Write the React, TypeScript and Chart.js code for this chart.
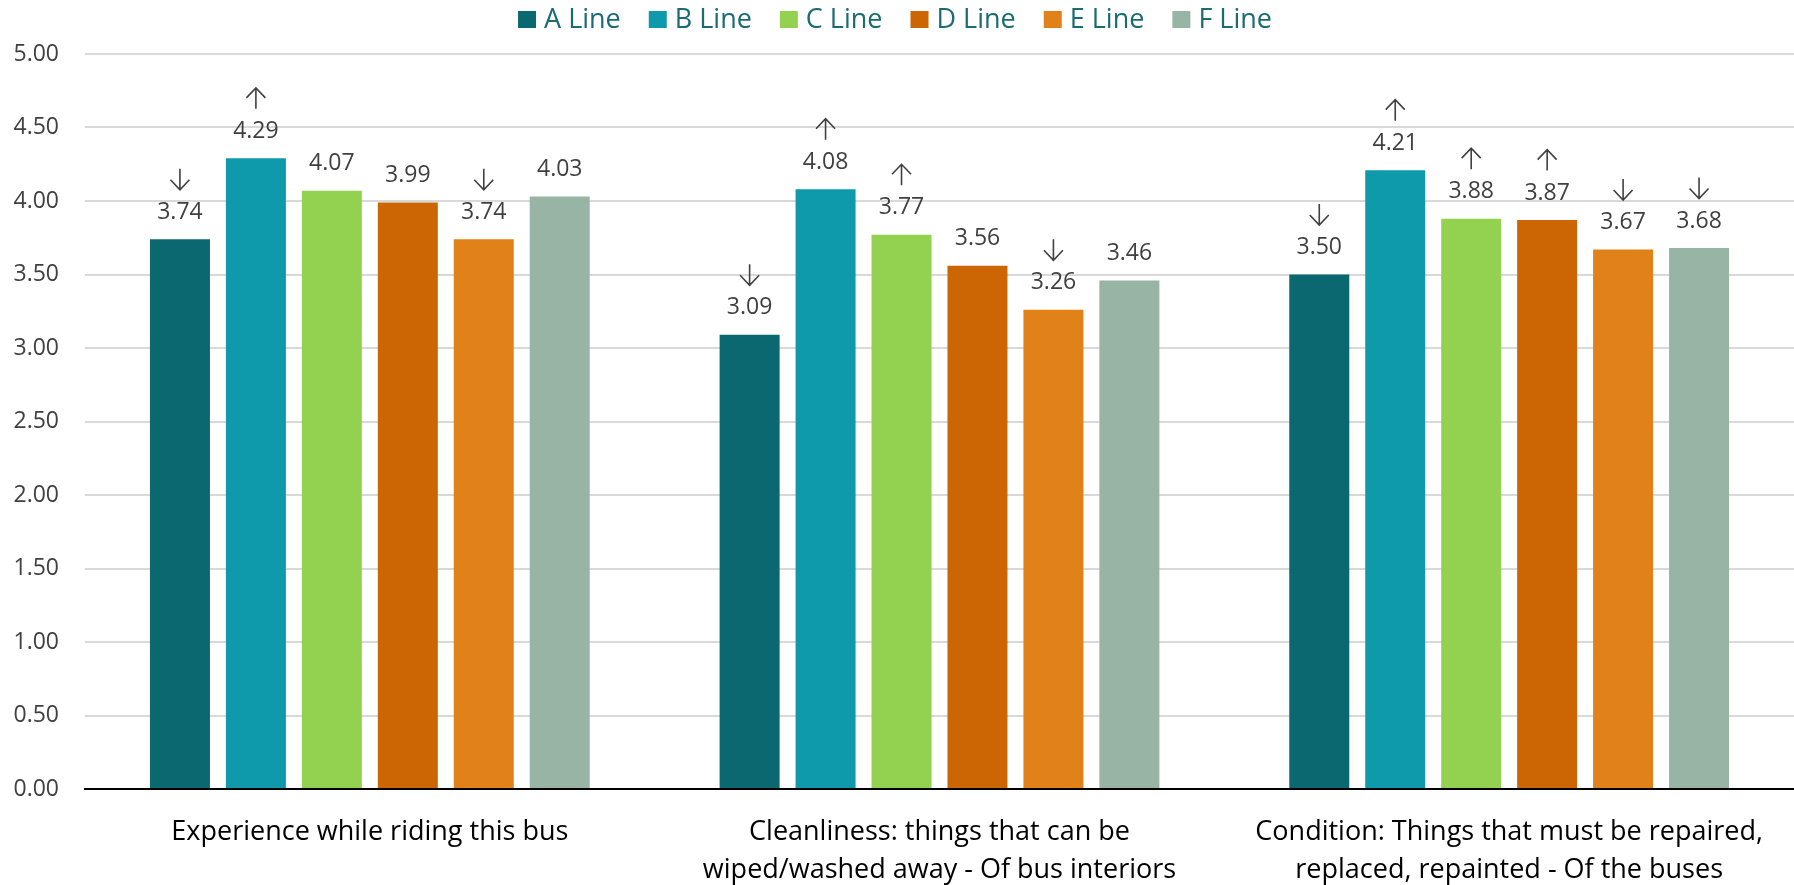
import React, { useEffect, useRef } from "react";
import { Chart, registerables } from "chart.js";

Chart.register(...registerables);

const FONT = "'Open Sans', 'Noto Sans', sans-serif";

const categories: (string | string[])[] = [
  "Experience while riding this bus",
  ["Cleanliness: things that can be", "wiped/washed away - Of bus interiors"],
  ["Condition: Things that must be repaired,", "replaced, repainted - Of the buses"],
];

const seriesNames = ["A Line", "B Line", "C Line", "D Line", "E Line", "F Line"];
const seriesColors = ["#0b6870", "#0e9aab", "#93d250", "#cc6504", "#e08119", "#98b4a4"];

const aLine = [3.74, 3.09, 3.5];
const bLine = [4.29, 4.08, 4.21];
const cLine = [4.07, 3.77, 3.88];
const dLine = [3.99, 3.56, 3.87];
const eLine = [3.74, 3.26, 3.67];
const fLine = [4.03, 3.46, 3.68];

const aArrows = ["down", "down", "down"];
const bArrows = ["up", "up", "up"];
const cArrows = ["", "up", "up"];
const dArrows = ["", "", "up"];
const eArrows = ["down", "down", "down"];
const fArrows = ["", "", "down"];

const yMin = 0;
const yMax = 5;
const yStep = 0.5;

const seriesValues = [aLine, bLine, cLine, dLine, eLine, fLine];
const seriesArrows = [aArrows, bArrows, cArrows, dArrows, eArrows, fArrows];

function drawArrow(ctx: CanvasRenderingContext2D, x: number, cy: number, dir: string) {
  const half = 10.5;
  const wing = 9.5;
  const headH = 10;
  ctx.beginPath();
  ctx.moveTo(x, cy - half);
  ctx.lineTo(x, cy + half);
  if (dir === "down") {
    ctx.moveTo(x - wing, cy + half - headH);
    ctx.lineTo(x, cy + half);
    ctx.lineTo(x + wing, cy + half - headH);
  } else {
    ctx.moveTo(x - wing, cy - half + headH);
    ctx.lineTo(x, cy - half);
    ctx.lineTo(x + wing, cy - half + headH);
  }
  ctx.stroke();
}

const valueLabelPlugin = {
  id: "valueLabels",
  afterDatasetsDraw(chart: any) {
    const ctx: CanvasRenderingContext2D = chart.ctx;
    ctx.save();
    ctx.font = `23px ${FONT}`;
    ctx.fillStyle = "#404040";
    ctx.strokeStyle = "#404040";
    ctx.lineWidth = 1.6;
    ctx.textAlign = "center";
    ctx.textBaseline = "middle";
    chart.data.datasets.forEach((ds: any, i: number) => {
      const meta = chart.getDatasetMeta(i);
      meta.data.forEach((bar: any, j: number) => {
        const v = ds.data[j] as number;
        ctx.fillText(v.toFixed(2), bar.x, bar.y - 27);
        const a = ds.arrows ? ds.arrows[j] : "";
        if (a) drawArrow(ctx, bar.x, bar.y - 60, a);
      });
    });
    ctx.restore();
  },
};

const legendPlugin = {
  id: "customLegend",
  afterDraw(chart: any) {
    const ctx: CanvasRenderingContext2D = chart.ctx;
    ctx.save();
    ctx.font = `27px ${FONT}`;
    const box = 18;
    const gap = 8;
    const spacing = 28;
    const items = chart.data.datasets.map((ds: any) => ({
      label: ds.label as string,
      color: ds.backgroundColor as string,
      w: ctx.measureText(ds.label).width,
    }));
    const total =
      items.reduce((s: number, it: any) => s + box + gap + it.w, 0) + spacing * (items.length - 1);
    let x = (chart.width - total) / 2 - 2;
    ctx.textAlign = "left";
    ctx.textBaseline = "middle";
    items.forEach((it: any) => {
      ctx.fillStyle = it.color;
      ctx.fillRect(x, 11, box, 17);
      ctx.fillStyle = "#1a6b73";
      ctx.fillText(it.label, x + box + gap, 20);
      x += box + gap + it.w + spacing;
    });
    ctx.restore();
  },
};

export default function App() {
  const canvasRef = useRef<HTMLCanvasElement | null>(null);

  useEffect(() => {
    document.body.style.margin = "0";
    const canvas = canvasRef.current;
    if (!canvas) return;
    const chart = new Chart(canvas, {
      type: "bar",
      data: {
        labels: categories,
        datasets: seriesNames.map((name, i) => ({
          label: name,
          data: seriesValues[i],
          backgroundColor: seriesColors[i],
          borderWidth: 0,
          arrows: seriesArrows[i],
          categoryPercentage: 0.8,
          barPercentage: 0.79,
        })) as any,
      },
      options: {
        responsive: false,
        animation: false,
        devicePixelRatio: 1,
        layout: { padding: { top: 54, left: 0, right: 0, bottom: 0 } },
        plugins: {
          legend: { display: false },
          tooltip: { enabled: false },
        },
        scales: {
          x: {
            grid: { display: false, drawTicks: false },
            border: { display: true, color: "#000000", width: 2 },
            ticks: {
              font: { family: FONT, size: 27, lineHeight: 38 / 27 },
              color: "#000000",
              padding: 24,
              maxRotation: 0,
              autoSkip: false,
            },
            afterFit: (s: any) => {
              s.height = 96;
            },
          },
          y: {
            min: yMin,
            max: yMax,
            ticks: {
              stepSize: yStep,
              callback: (v: any) => Number(v).toFixed(2),
              font: { family: FONT, size: 23 },
              color: "#404040",
              padding: 26,
            },
            grid: {
              drawTicks: false,
              lineWidth: 2,
              color: (c: any) => (c.tick && c.tick.value === 0 ? "#000000" : "#d9d9d9"),
            },
            border: { display: false },
            afterFit: (s: any) => {
              s.width = 85;
            },
          },
        },
      } as any,
      plugins: [valueLabelPlugin, legendPlugin],
    });
    return () => chart.destroy();
  }, []);

  return (
    <div style={{ position: "absolute", left: 0, top: 0, width: 1794, height: 885, background: "#ffffff" }}>
      <canvas ref={canvasRef} width={1794} height={885} style={{ display: "block" }} />
    </div>
  );
}
